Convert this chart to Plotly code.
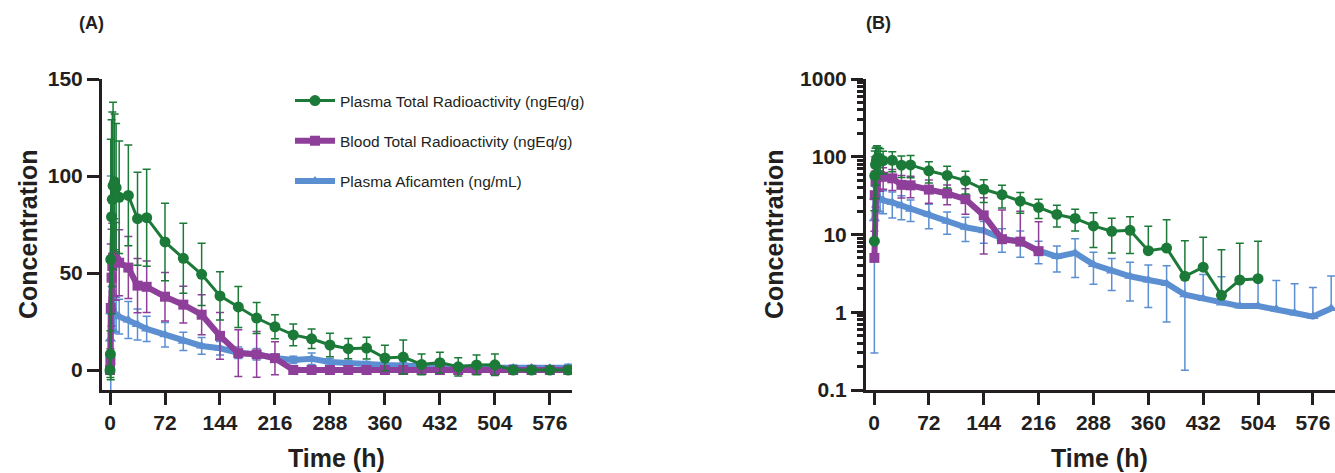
import plotly.graph_objects as go

# ---------------- data ----------------
time_h = [0, 0.5, 1, 2, 3, 4, 6, 8, 12, 24, 36, 48, 72, 96, 120, 144, 168, 192, 216,
          240, 264, 288, 312, 336, 360, 384, 408, 432, 456, 480, 504, 528, 552, 576, 600]

plasma_tr_mean = [0, 8.2, 57, 79, 88, 95, 97, 94, 89, 90, 78, 78.5, 66, 57.6, 49.3, 38.2, 32.5, 26.8, 22.3,
                  18.1, 16.1, 12.9, 11.0, 11.3, 6.2, 6.7, 2.9, 3.8, 1.65, 2.6, 2.7, 0, 0, 0, 0]
plasma_tr_sd = [0, 12, 62, 50, 45, 43, 35, 33, 29, 26, 24, 25, 20, 18, 16, 12.4, 10.6, 8, 6.2,
                5.6, 5, 6.1, 5.2, 5.6, 6.6, 8.8, 5.4, 5.4, 4.7, 5.1, 5.5, 0, 0, 0, 0]

blood_tr_mean = [0, 5.0, 32, 47.6, 53.6, 57.9, 58, 56, 55.3, 52.8, 43.5, 42.9, 37.8, 33.7, 28.5, 17.6, 8.7, 8.1, 6.1,
                 0, 0, 0, 0, 0, 0, 0, 0, 0, 0, 0, 0, 0, 0, 0, 0]
blood_tr_sd = [0, 6, 33, 25, 22, 22, 20, 20, 17, 16, 14, 13.3, 12.5, 9.5, 10.3, 12, 12, 11.8, 8.5,
               0, 0, 0, 0, 0, 0, 0, 0, 0, 0, 0, 0, 0, 0, 0, 0]

afic_mean = [0, 16, 30, 31, 30.5, 30, 29, 28.5, 27.5, 25.8, 23.5, 21.2, 18.2, 14.8, 12.4, 11.2, 8.9, 8.1, 6.2,
             5.2, 5.8, 4.1, 3.4, 2.9, 2.6, 2.35, 1.68, 1.5, 1.32, 1.2, 1.2, 1.1, 0.98, 0.88, 1.12]
afic_sd = [0, 15.7, 70, 12, 10, 9, 9, 9, 9, 9.5, 8, 6.5, 6.3, 4.7, 4.3, 3.5, 3, 3, 2,
           1.9, 3.0, 1.8, 1.5, 1.5, 1.45, 1.6, 1.5, 1.55, 1.55, 1.43, 1.4, 1.47, 1.35, 1.2, 1.8]

series_names = ["Plasma Total Radioactivity (ngEq/g)",
                "Blood Total Radioactivity (ngEq/g)",
                "Plasma Aficamten (ng/mL)"]
x_ticks = [0, 72, 144, 216, 288, 360, 432, 504, 576]
y_ticks_lin = [0, 50, 100, 150]
y_ticks_log = [0.1, 1, 10, 100, 1000]
y_ticklabels_log = ["0.1", "1", "10", "100", "1000"]

# ---------------- styling ----------------
W, H = 1335, 473
GREEN = "#1c7a38"
PURPLE = "#8e3f99"
BLUE = "#5b8fd2"
INK = "#231f20"
FONT = "Liberation Sans, Arial, sans-serif"


def px(x):
    return x / W


def py(y):
    return 1 - y / H


series = [
    # (name, mean, sd, color, symbol, msize, lwidth, rank)
    (series_names[2], afic_mean, afic_sd, BLUE, "triangle-up", 10, 6, 3),
    (series_names[1], blood_tr_mean, blood_tr_sd, PURPLE, "square", 10, 6, 2),
    (series_names[0], plasma_tr_mean, plasma_tr_sd, GREEN, "circle", 11, 3, 1),
]

fig = go.Figure()

for name, mean, sd, color, symbol, msize, lw, rank in series:
    # Panel A (linear)
    fig.add_trace(go.Scatter(
        x=time_h, y=mean, mode="lines+markers", name=name,
        legendgroup=name, legendrank=rank, showlegend=True,
        line=dict(color=color, width=lw),
        marker=dict(color=color, symbol=symbol, size=msize),
        error_y=dict(type="data", array=sd, color=color, thickness=1.5, width=4),
        xaxis="x", yaxis="y",
    ))
    # Panel B (log): drop non-positive values; hide lower bars that would go <= 0
    xb, yb, up, lo = [], [], [], []
    for t, m, s in zip(time_h, mean, sd):
        if m > 0:
            xb.append(t)
            yb.append(m)
            up.append(s)
            lo.append(s if m - s > 0 else 0)
    fig.add_trace(go.Scatter(
        x=xb, y=yb, mode="lines+markers", name=name,
        legendgroup=name, showlegend=False,
        line=dict(color=color, width=lw),
        marker=dict(color=color, symbol=symbol, size=msize),
        error_y=dict(type="data", symmetric=False, array=up, arrayminus=lo,
                     color=color, thickness=1.5, width=4),
        xaxis="x2", yaxis="y2",
    ))

axis_common = dict(
    showline=True, linewidth=3, linecolor=INK, mirror=False,
    ticks="outside", ticklen=12, tickwidth=3, tickcolor=INK,
    showgrid=False, zeroline=False, automargin=False,
    tickfont=dict(family=FONT, size=21, color=INK, weight="bold"),
)

fig.update_layout(
    template="none",
    width=W, height=H,
    margin=dict(l=0, r=0, t=0, b=0, pad=0),
    paper_bgcolor="white", plot_bgcolor="white",
    xaxis=dict(domain=[px(102), px(572)], range=[-10.5, 605], tickvals=x_ticks,
               anchor="y", **axis_common),
    yaxis=dict(domain=[py(390), py(79)], range=[-10.3, 150], tickvals=y_ticks_lin,
               anchor="x", **axis_common),
    xaxis2=dict(domain=[px(866), 1.0], range=[-10.5, 605], tickvals=x_ticks,
                anchor="y2", **axis_common),
    yaxis2=dict(domain=[py(390), py(79)], type="log", range=[-1, 3],
                tickvals=y_ticks_log, ticktext=y_ticklabels_log, anchor="x2",
                minor=dict(ticks="outside", ticklen=6, tickwidth=2.5, tickcolor=INK,
                           tickvals=[k * d for d in (0.1, 1, 10, 100) for k in range(2, 10)]),
                **axis_common),
    showlegend=True,
    legend=dict(x=px(290), y=py(84), xanchor="left", yanchor="top",
                bgcolor="rgba(0,0,0,0)", tracegroupgap=17,
                font=dict(family=FONT, size=15.5, color=INK),
                itemwidth=40),
)

ann = dict(showarrow=False, xref="paper", yref="paper", xanchor="center", yanchor="middle",
           font=dict(family=FONT, size=25, color=INK, weight="bold"))
fig.add_annotation(text="Concentration", x=px(28), y=py(235), textangle=-90, **ann)
fig.add_annotation(text="Concentration", x=px(774), y=py(235), textangle=-90, **ann)
fig.add_annotation(text="Time (h)", x=px(336), y=py(458), **ann)
fig.add_annotation(text="Time (h)", x=px(1099), y=py(458), **ann)
lab = dict(showarrow=False, xref="paper", yref="paper", xanchor="center", yanchor="middle",
           font=dict(family=FONT, size=18, color=INK, weight="bold"))
fig.add_annotation(text="(A)", x=px(91), y=py(23), **lab)
fig.add_annotation(text="(B)", x=px(878), y=py(23), **lab)

fig.write_html("out.html", config={"displayModeBar": False},
               post_script="document.body.style.margin='0';")
